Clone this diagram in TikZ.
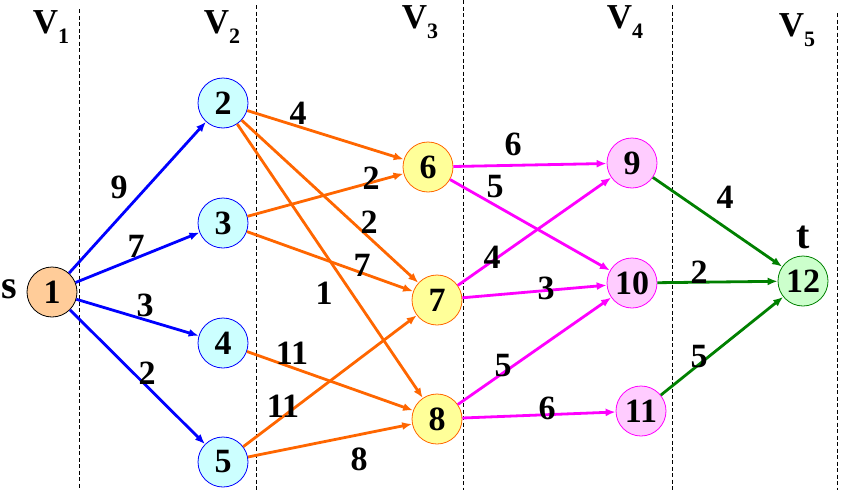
\documentclass[tikz,border=0pt]{standalone}
\usepackage{fontspec}
\setmainfont{Liberation Serif}
\usetikzlibrary{arrows.meta}
\definecolor{flowblue}{RGB}{0,0,255}
\definecolor{floworange}{RGB}{255,102,0}
\definecolor{flowpink}{RGB}{255,0,255}
\definecolor{flowgreen}{RGB}{0,128,0}
\definecolor{fillpeach}{RGB}{255,204,153}
\definecolor{fillcyan}{RGB}{204,255,255}
\definecolor{fillyellow}{RGB}{255,255,153}
\definecolor{fillpink}{RGB}{255,204,255}
\definecolor{fillgreen}{RGB}{204,255,204}
\newcommand{\stagename}[1]{V\raisebox{-0.3em}{\fontsize{22}{22}\selectfont #1}}

\begin{document}
\begin{tikzpicture}[
  x = 1pt, y = -1pt,
  > = {Latex[length=10pt, width=8pt]},
  vertex/.style = {circle, draw, line width=0.8pt, minimum size=50pt, inner sep=0pt,
                   font=\rmfamily\bfseries\fontsize{34}{34}\selectfont},
  weight/.style = {inner sep=0pt, font=\rmfamily\bfseries\fontsize{34}{34}\selectfont},
  letter/.style = {inner sep=0pt, font=\rmfamily\bfseries\fontsize{40}{40}\selectfont},
  link/.style = {->, line width=2.8pt},
  stageline/.style = {line width=0.8pt, dash pattern=on 4pt off 2.5pt}
]
  \useasboundingbox (0,0) rectangle (849,490);

  % stage separators and names
  \foreach \x/\y in {79/9, 256/5, 463/0, 672/5, 837/13}
    \draw[stageline] (\x,\y) -- (\x,490);
  \node[letter, font=\rmfamily\bfseries\fontsize{35}{35}\selectfont] (v1) at (51,27) {\stagename{1}};
  \node[letter, font=\rmfamily\bfseries\fontsize{35}{35}\selectfont] (v2) at (222,27) {\stagename{2}};
  \node[letter, font=\rmfamily\bfseries\fontsize{35}{35}\selectfont] (v3) at (420,22) {\stagename{3}};
  \node[letter, font=\rmfamily\bfseries\fontsize{35}{35}\selectfont] (v4) at (625,22) {\stagename{4}};
  \node[letter, font=\rmfamily\bfseries\fontsize{35}{35}\selectfont] (v5) at (797,30) {\stagename{5}};

  % vertices
  \node[vertex, fill=fillpeach] (n1) at (52,292) {1};
  \node[vertex, draw=flowblue, fill=fillcyan] (n2) at (223,103) {2};
  \node[vertex, draw=flowblue, fill=fillcyan] (n3) at (223,223) {3};
  \node[vertex, draw=flowblue, fill=fillcyan] (n4) at (223,343) {4};
  \node[vertex, draw=flowblue, fill=fillcyan] (n5) at (223,462) {5};
  \node[vertex, draw=floworange, fill=fillyellow] (n6) at (428,167) {6};
  \node[vertex, draw=floworange, fill=fillyellow] (n7) at (437,300) {7};
  \node[vertex, draw=floworange, fill=fillyellow] (n8) at (437,419) {8};
  \node[vertex, draw=flowpink, fill=fillpink] (n9) at (632,163) {9};
  \node[vertex, draw=flowpink, fill=fillpink] (n10) at (632,283) {10};
  \node[vertex, draw=flowpink, fill=fillpink] (n11) at (641,411) {11};
  \node[vertex, draw=flowgreen, fill=fillgreen] (n12) at (803,281) {12};

  \node[letter] (src) at (9,289) {s};
  \node[letter] (snk) at (803,237) {t};

  % stage 1 -> 2
  \draw[link, flowblue] (n1) -- (n2);
  \draw[link, flowblue] (n1) -- (n3);
  \draw[link, flowblue] (n1) -- (n4);
  \draw[link, flowblue] (n1) -- (n5);
  \node[weight] (w12) at (119,187) {9};
  \node[weight] (w13) at (136,246) {7};
  \node[weight] (w14) at (145,305) {3};
  \node[weight] (w15) at (147,373) {2};

  % stage 2 -> 3
  \draw[link, floworange] (n2) -- (n6);
  \draw[link, floworange] (n2) -- (n7);
  \draw[link, floworange] (n2) -- (n8);
  \draw[link, floworange] (n3) -- (n6);
  \draw[link, floworange] (n3) -- (n7);
  \draw[link, floworange] (n4) -- (n8);
  \draw[link, floworange] (n5) -- (n7);
  \draw[link, floworange] (n5) -- (n8);
  \node[weight] (w26) at (298,113) {4};
  \node[weight] (w27) at (369,222) {2};
  \node[weight] (w28) at (324,293) {1};
  \node[weight] (w36) at (371,178) {2};
  \node[weight] (w37) at (362,265) {7};
  \node[weight] (w48) at (292,353) {11};
  \node[weight] (w57) at (283,406) {11};
  \node[weight] (w58) at (359,459) {8};

  % stage 3 -> 4
  \draw[link, flowpink] (n6) -- (n9);
  \draw[link, flowpink] (n6) -- (n10);
  \draw[link, flowpink] (n7) -- (n9);
  \draw[link, flowpink] (n7) -- (n10);
  \draw[link, flowpink] (n8) -- (n10);
  \draw[link, flowpink] (n8) -- (n11);
  \node[weight] (w69) at (513,144) {6};
  \node[weight] (w610) at (495,187) {5};
  \node[weight] (w79) at (492,257) {4};
  \node[weight] (w710) at (546,288) {3};
  \node[weight] (w810) at (503,366) {5};
  \node[weight] (w811) at (547,408) {6};

  % stage 4 -> 5
  \draw[link, flowgreen] (n9) -- (n12);
  \draw[link, flowgreen] (n10) -- (n12);
  \draw[link, flowgreen] (n11) -- (n12);
  \node[weight] (w912) at (725,197) {4};
  \node[weight] (w1012) at (699,272) {2};
  \node[weight] (w1112) at (699,357) {5};
\end{tikzpicture}
\end{document}
